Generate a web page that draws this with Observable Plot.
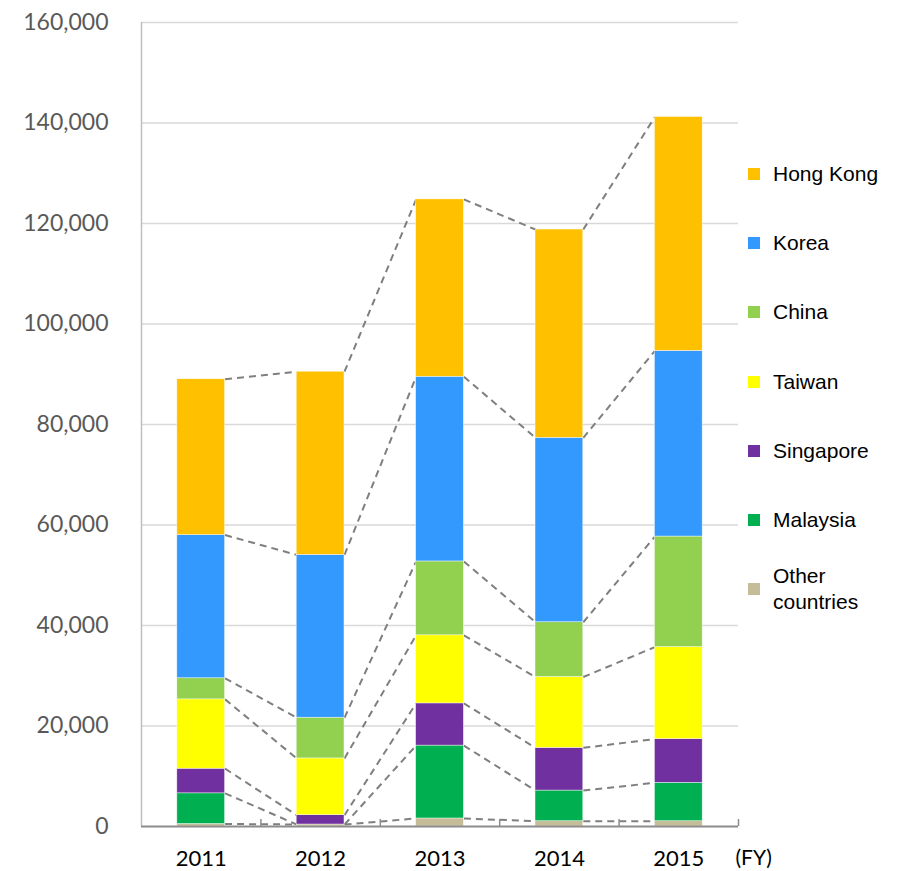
<!DOCTYPE html>
<html>
<head>
<meta charset="utf-8">
<script src="https://cdn.jsdelivr.net/npm/d3@7"></script>
<script src="https://cdn.jsdelivr.net/npm/@observablehq/plot@0.6"></script>
<style>
  html, body { margin: 0; padding: 0; background: #fff; }
  #wrap { position: relative; width: 897px; height: 871px; }
  #legend { position: absolute; left: 0; top: 0; width: 897px; height: 871px; pointer-events: none;
            font-family: "Liberation Sans", Arial, sans-serif; font-size: 21px; color: #000; }
  .item { position: absolute; left: 748px; display: flex; align-items: center; }
  .sw { width: 12px; height: 12px; margin-right: 13px; flex: none; }
  .lab { line-height: 26px; }
</style>
</head>
<body>
<div id="wrap"><div id="chart"></div><div id="legend"></div></div>
<script>
// ---- data ----
const years = [2011, 2012, 2013, 2014, 2015];
const countries = ["Other countries", "Malaysia", "Singapore", "Taiwan", "China", "Korea", "Hong Kong"]; // bottom -> top
const colors = ["#c4bd97", "#00b050", "#7030a0", "#ffff00", "#92d050", "#3399ff", "#ffc000"];
const otherCountries = [500, 400, 1600, 1050, 1050];
const malaysia       = [6100, 0, 14500, 6100, 7650];
const singapore      = [4900, 1850, 8400, 8500, 8700];
const taiwan         = [13800, 11300, 13550, 14100, 18300];
const china          = [4200, 8100, 14700, 10900, 22000];
const korea          = [28500, 32400, 36750, 36700, 36950];
const hongKong       = [31000, 36450, 35300, 41450, 46550];
const yTicks = [0, 20000, 40000, 60000, 80000, 100000, 120000, 140000, 160000];
const legendOrder = ["Hong Kong", "Korea", "China", "Taiwan", "Singapore", "Malaysia", "Other countries"];

const series = [otherCountries, malaysia, singapore, taiwan, china, korea, hongKong];
const half = 0.2;

// stacked rows
const rows = [];
years.forEach((yr, i) => {
  let cum = 0;
  countries.forEach((c, j) => {
    const v = series[j][i];
    rows.push({year: yr, country: c, y1: cum, y2: cum + v, i, j});
    cum += v;
  });
});
const segTop = (i, j) => rows.find(r => r.i === i && r.j === j).y2;
const links = [];
for (let j = 0; j < countries.length; j++) {
  for (let i = 0; i < years.length - 1; i++) {
    links.push({xa: years[i] + half, ya: segTop(i, j), xb: years[i + 1] - half, yb: segTop(i + 1, j)});
  }
}
const bounds = years.map(y => y + 0.5);

const chart = Plot.plot({
  width: 897,
  height: 871,
  marginLeft: 141,
  marginRight: 159,
  marginTop: 22,
  marginBottom: 45,
  style: {fontFamily: "Lato, 'Open Sans', sans-serif", background: "#fff"},
  x: {domain: [years[0] - 0.5, years[years.length - 1] + 0.5]},
  y: {domain: [0, 160000]},
  color: {domain: countries, range: colors},
  marks: [
    Plot.ruleY(yTicks.filter(d => d > 0), {stroke: "#d9d9d9", strokeWidth: 1.5}),
    Plot.ruleX([years[0] - 0.5], {stroke: "#bfbfbf", strokeWidth: 1.5}),
    Plot.axisY({ticks: yTicks, tickSize: 0, tickPadding: 33, tickFormat: d3.format(","), fontSize: 23, fill: "#595959"}),
    Plot.axisX({ticks: years, tickSize: 0, tickPadding: 24, tickFormat: d => String(d), fontSize: 22, fill: "#000"}),
    Plot.link(links, {x1: "xa", y1: "ya", x2: "xb", y2: "yb", stroke: "#7f7f7f", strokeWidth: 2, strokeDasharray: "7,5"}),
    Plot.rect(rows, {x1: d => d.year - half, x2: d => d.year + half, y1: "y1", y2: "y2", fill: "country", stroke: "#fff", strokeWidth: 0.6, strokeOpacity: 0.7}),
    Plot.ruleY([0], {stroke: "#8c8c8c", strokeWidth: 2}),
    Plot.ruleX(bounds, {y1: 0, y2: 1400, stroke: "#8c8c8c", strokeWidth: 1.5}),
    Plot.text(["(FY)"], {x: years[years.length - 1] + 0.5, y: 0, dx: -3, dy: 32, textAnchor: "start", fontSize: 21, fill: "#000"})
  ]
});
document.getElementById("chart").appendChild(chart);

// legend
const leg = document.getElementById("legend");
legendOrder.forEach((c, k) => {
  const item = document.createElement("div");
  item.className = "item";
  const sw = document.createElement("div");
  sw.className = "sw";
  sw.style.background = colors[countries.indexOf(c)];
  const lab = document.createElement("div");
  lab.className = "lab";
  if (c === "Other countries") lab.innerHTML = "Other<br>countries"; else lab.textContent = c;
  item.appendChild(sw); item.appendChild(lab);
  const center = 174 + k * 69.2;
  const h = c === "Other countries" ? 52 : 26;
  item.style.top = (center - h / 2) + "px";
  leg.appendChild(item);
});
</script>
</body>
</html>
